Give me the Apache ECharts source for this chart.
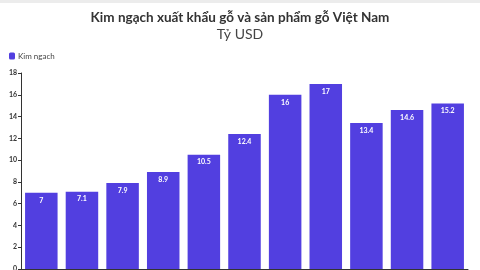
<!DOCTYPE html>
<html><head><meta charset="utf-8">
<script src="https://cdn.jsdelivr.net/npm/echarts@6/dist/echarts.min.js"></script>
<style>html,body{margin:0;padding:0;background:#fff}#c{width:480px;height:270px}</style>
</head><body><div id="c"></div>
<script>
const categories = ['2014','2015','2016','2017','2018','2019','2020','2021','2022','2023','2024'];
const values = [7, 7.1, 7.9, 8.9, 10.5, 12.4, 16, 17, 13.4, 14.6, 15.2];
const yTicks = [0, 2, 4, 6, 8, 10, 12, 14, 16, 18];
const chart = echarts.init(document.getElementById('c'));
chart.setOption({
  animation: false,
  graphic: [{type:'rect', shape:{x:0,y:0,width:480,height:3}, style:{fill:'#ececec'}}],
  title: {
    text: 'Kim ngạch xuất khẩu gỗ và sản phẩm gỗ Việt Nam',
    subtext: 'Tỷ USD',
    left: 'center', top: 6, itemGap: 2,
    textStyle: {fontFamily: 'Lato', fontWeight: 'bold', fontSize: 13.5, color: '#333'},
    subtextStyle: {fontFamily: 'Lato', fontSize: 14, color: '#444'}
  },
  legend: {
    left: 4, top: 47, itemWidth: 6, itemHeight: 7, itemGap: 4,
    icon: 'roundRect',
    textStyle: {fontFamily: 'Lato', fontSize: 8, color: '#444', padding: [0,0,0,-2]},
    data: ['Kim ngach']
  },
  grid: {left: 21, right: 12, top: 73, bottom: 1, containLabel: false, outerBoundsMode: 'none'},
  xAxis: {
    type: 'category', data: categories,
    axisLine: {lineStyle: {color: '#333'}},
    axisTick: {show: false},
    axisLabel: {fontSize: 8}
  },
  yAxis: {
    type: 'value', min: yTicks[0], max: yTicks[yTicks.length-1], interval: 2,
    axisLine: {show: true, lineStyle: {color: '#333'}},
    axisTick: {show: true, length: 3, lineStyle: {color: '#333'}},
    splitLine: {show: false},
    axisLabel: {fontFamily: 'Lato', fontSize: 7, fontWeight: 'bold', color: '#333', margin: 4}
  },
  series: [{
    name: 'Kim ngach', type: 'bar', data: values,
    barCategoryGap: '20%',
    itemStyle: {color: '#523fe0'},
    label: {show: true, position: 'insideTop', distance: 4, color: '#fff', fontFamily: 'Lato', fontWeight: 'bold', fontSize: 7}
  }]
});
</script></body></html>
